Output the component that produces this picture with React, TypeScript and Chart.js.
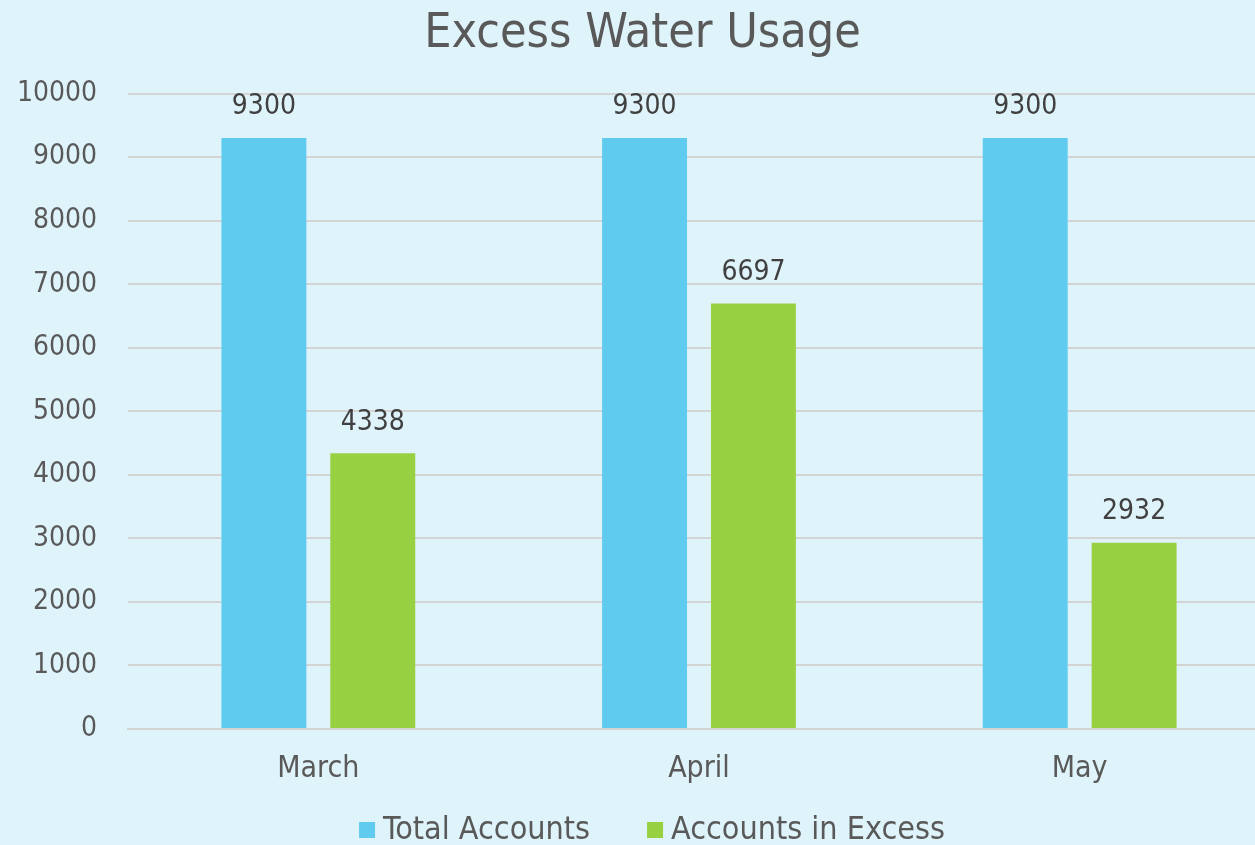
import React, { useEffect, useRef } from "react";
import { Chart, registerables } from "chart.js";

Chart.register(...registerables);

const categories = ["March", "April", "May"];
const totalAccounts = [9300, 9300, 9300];
const accountsInExcess = [4338, 6697, 2932];
const seriesNames = ["Total Accounts", "Accounts in Excess"];
const seriesColors = ["#5FCBEF", "#97D142"];
const titleText = "Excess Water Usage";

const FONT = "'DejaVu Sans Condensed', 'DejaVu Sans', sans-serif";
const TEXT = "#595959";

const dataLabels = {
  id: "dataLabels",
  afterDatasetsDraw(chart: any) {
    const ctx = chart.ctx;
    ctx.save();
    ctx.font = `28px ${FONT}`;
    ctx.fillStyle = "#404040";
    ctx.textAlign = "center";
    ctx.textBaseline = "middle";
    chart.data.datasets.forEach((ds: any, i: number) => {
      const meta = chart.getDatasetMeta(i);
      meta.data.forEach((el: any, j: number) => {
        ctx.fillText(String(ds.data[j]), el.x, el.y - 31);
      });
    });
    ctx.restore();
  },
};

// Legend drawn from the chart's datasets, placed at the bottom
const bottomLegend = {
  id: "bottomLegend",
  afterDraw(chart: any) {
    const ctx = chart.ctx;
    ctx.save();
    ctx.font = `32px ${FONT}`;
    ctx.textBaseline = "middle";
    ctx.textAlign = "left";
    const box = 16;
    const boxGap = 8;
    const itemGap = 57;
    const items = chart.data.datasets.map((ds: any) => ({
      text: ds.label,
      color: ds.backgroundColor,
      w: box + boxGap + ctx.measureText(ds.label).width,
    }));
    const total = items.reduce((s: number, it: any) => s + it.w, 0) + itemGap * (items.length - 1);
    let x = chart.width / 2 + 4 - total / 2;
    const y = 830;
    items.forEach((it: any) => {
      ctx.fillStyle = it.color;
      ctx.fillRect(x, y - box / 2, box, box);
      ctx.fillStyle = TEXT;
      ctx.fillText(it.text, x + box + boxGap, y + 1);
      x += it.w + itemGap;
    });
    ctx.restore();
  },
};

const bg = {
  id: "bg",
  beforeDraw(chart: any) {
    const ctx = chart.ctx;
    ctx.save();
    ctx.fillStyle = "#DFF3FA";
    ctx.fillRect(0, 0, chart.width, chart.height);
    ctx.restore();
  },
};

export default function App() {
  const ref = useRef<HTMLCanvasElement>(null);
  useEffect(() => {
    document.body.style.margin = "0";
    document.body.style.overflow = "hidden";
    document.body.style.background = "#DFF3FA";
    const chart = new Chart(ref.current!, {
      type: "bar",
      data: {
        labels: categories,
        datasets: [
          {
            label: seriesNames[0],
            data: totalAccounts,
            backgroundColor: seriesColors[0],
            categoryPercentage: 0.572,
            barPercentage: 0.78,
          },
          {
            label: seriesNames[1],
            data: accountsInExcess,
            backgroundColor: seriesColors[1],
            categoryPercentage: 0.572,
            barPercentage: 0.78,
          },
        ],
      },
      options: {
        responsive: false,
        animation: false,
        layout: { padding: { left: 15, right: 26, top: 0, bottom: 36 } },
        plugins: {
          title: {
            display: true,
            text: titleText,
            color: TEXT,
            font: { family: FONT, size: 48, weight: "normal" },
            padding: { top: 6, bottom: 30 },
          },
          legend: { display: false },
          tooltip: { enabled: false },
        },
        scales: {
          x: {
            grid: { display: false, drawTicks: false },
            border: { color: "#D4D4D4", width: 2 },
            ticks: {
              color: TEXT,
              font: { family: FONT, size: 30 },
              padding: 22,
            },
          },
          y: {
            min: 0,
            max: 10000,
            afterFit(scale: any) {
              scale.width = 113;
            },
            grid: { color: "#D4D4D4", lineWidth: 2, drawTicks: false },
            border: { display: false },
            ticks: {
              stepSize: 1000,
              color: TEXT,
              font: { family: FONT, size: 28 },
              padding: 31,
              callback: (v: any) => String(v),
            },
          },
        },
      },
      plugins: [bg, dataLabels, bottomLegend],
    });
    return () => chart.destroy();
  }, []);
  return <canvas ref={ref} width={1296} height={845} style={{ display: "block" }} />;
}
